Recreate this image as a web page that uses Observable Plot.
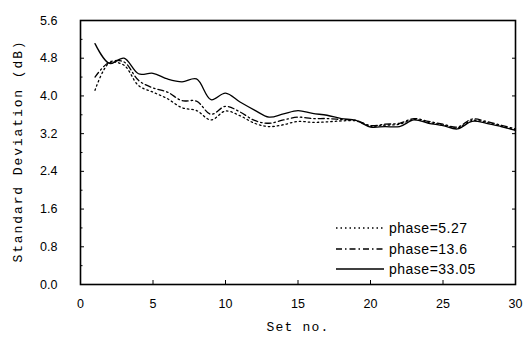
<!DOCTYPE html>
<html>
<head>
<meta charset="utf-8">
<script src="https://cdn.jsdelivr.net/npm/d3@7"></script>
<script src="https://cdn.jsdelivr.net/npm/@observablehq/plot@0.6"></script>
<style>
  html, body { margin: 0; padding: 0; background: #fff; }
  #wrap { position: relative; width: 524px; height: 343px; }
  #legend { position: absolute; left: 335px; top: 218px; font-family: "Liberation Sans Narrow", "Liberation Sans", sans-serif; font-size: 14px; color: #000; letter-spacing: 0.5px; }
  #legend .row { display: flex; align-items: center; height: 20.5px; }
  #legend svg { margin-right: 4px; }
</style>
</head>
<body>
<div id="wrap"></div>
<script>
const sets = [1,2,3,4,5,6,7,8,9,10,11,12,13,14,15,16,17,18,19,20,21,22,23,24,25,26,27,28,29,30];
const phase527  = [4.12,4.70,4.65,4.22,4.08,3.94,3.75,3.69,3.49,3.68,3.58,3.42,3.35,3.39,3.46,3.44,3.45,3.47,3.47,3.36,3.38,3.40,3.50,3.44,3.38,3.32,3.48,3.44,3.36,3.28];
const phase136  = [4.40,4.72,4.72,4.33,4.17,4.08,3.90,3.89,3.61,3.78,3.66,3.48,3.42,3.49,3.55,3.52,3.52,3.50,3.48,3.37,3.40,3.42,3.52,3.46,3.40,3.34,3.51,3.46,3.38,3.30];
const phase3305 = [5.11,4.69,4.80,4.47,4.48,4.36,4.30,4.36,3.92,4.06,3.87,3.70,3.55,3.62,3.69,3.63,3.59,3.52,3.48,3.34,3.35,3.35,3.49,3.42,3.37,3.30,3.46,3.42,3.35,3.27];
const seriesNames = ["phase=5.27", "phase=13.6", "phase=33.05"];
const seriesDash = ["1.5,3", "6,3,1.5,3", null];
const xTicks = [0,5,10,15,20,25,30];
const yTicks = [0,0.8,1.6,2.4,3.2,4.0,4.8,5.6];
const yMinor = [0.4,1.2,2.0,2.8,3.6,4.4,5.2];

const seriesVals = [phase527, phase136, phase3305];
const data = seriesVals.flatMap((vals, i) => sets.map((s, j) => ({set: s, sd: vals[j], series: seriesNames[i]})));

const chart = Plot.plot({
  width: 524,
  height: 343,
  marginLeft: 80,
  marginRight: 9,
  marginTop: 20,
  marginBottom: 59,
  x: {domain: [0, 30]},
  y: {domain: [0, 5.6]},
  style: {fontSize: "12.5px", fontFamily: "Liberation Sans", color: "#000", background: "#fff"},
  marks: [
    Plot.axisX({ticks: xTicks, tickSize: 0, tickPadding: 15, tickFormat: d => String(d), fontSize: 12.5, label: null}),
    Plot.axisY({ticks: yTicks, tickSize: 0, tickPadding: 23, tickFormat: d => d.toFixed(1), fontSize: 12.5, label: null}),
    Plot.tickX(xTicks, {x: d => d, stroke: "#000", insetTop: 260, strokeWidth: 1}),
    Plot.tickY(yTicks, {y: d => d, stroke: "#000", insetRight: 431, strokeWidth: 1}),
    Plot.tickY(yMinor, {y: d => d, stroke: "#000", insetRight: 432.5, strokeWidth: 1}),
    Plot.tickY(yTicks, {y: d => d, stroke: "#000", insetLeft: 432, strokeWidth: 1}),
    ...seriesNames.map((name, i) =>
      Plot.line(data.filter(d => d.series === name), {
        x: "set", y: "sd", stroke: "#000", strokeWidth: 1.3,
        strokeDasharray: seriesDash[i], curve: "catmull-rom"
      })
    ),
    Plot.frame({stroke: "#000", strokeWidth: 1.6})
  ]
});

const wrap = document.getElementById("wrap");
wrap.appendChild(chart);

const svg = d3.select(chart);

// axis titles as real text
svg.append("text")
  .attr("transform", "translate(22,151) rotate(-90)")
  .attr("text-anchor", "middle")
  .style("font-family", "'Liberation Mono', 'DejaVu Sans Mono', monospace")
  .attr("font-size", 13)
  .attr("letter-spacing", "1.9px")
  .attr("fill", "#000")
  .text("Standard Deviation (dB)");
svg.append("text")
  .attr("x", 298).attr("y", 331)
  .attr("text-anchor", "middle")
  .style("font-family", "'Liberation Mono', 'DejaVu Sans Mono', monospace")
  .attr("font-size", 13)
  .attr("letter-spacing", "1.2px")
  .attr("fill", "#000")
  .text("Set no.");

// legend (HTML)
const legend = document.createElement("div");
legend.id = "legend";
seriesNames.forEach((name, i) => {
  const row = document.createElement("div");
  row.className = "row";
  const s = d3.create("svg").attr("width", 50).attr("height", 8);
  s.append("line").attr("x1", 1).attr("x2", 49).attr("y1", 4).attr("y2", 4)
    .attr("stroke", "#000").attr("stroke-width", 1.3)
    .attr("stroke-dasharray", seriesDash[i]);
  row.appendChild(s.node());
  const t = document.createElement("span");
  t.textContent = name;
  row.appendChild(t);
  legend.appendChild(row);
});
wrap.appendChild(legend);
</script>
</body>
</html>
